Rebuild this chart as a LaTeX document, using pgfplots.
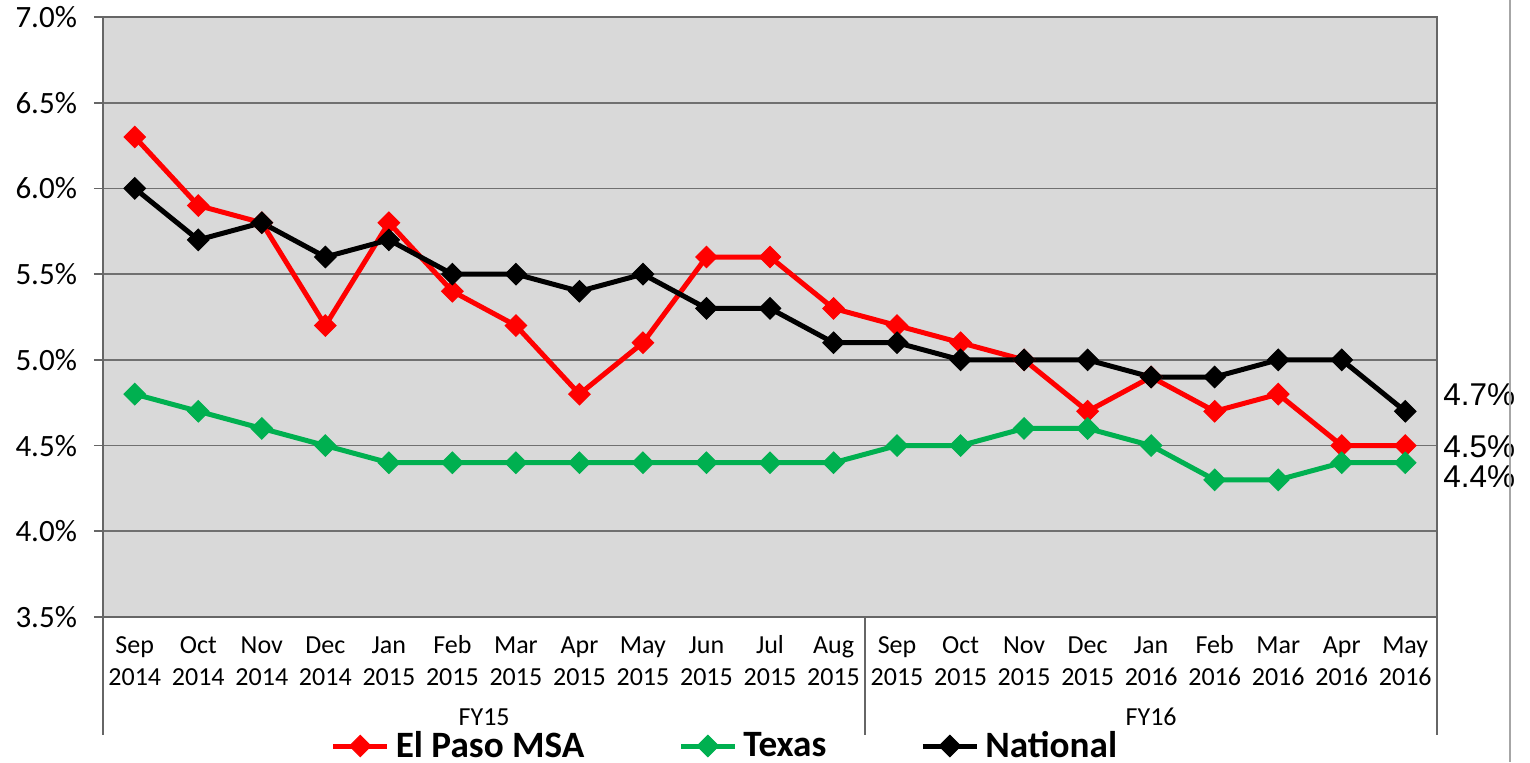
\documentclass[border=0pt]{standalone}
\usepackage{fontspec}
\setmainfont{Carlito}
\newfontfamily\arial{Liberation Sans}
\usepackage{pgfplots}
\usepackage{pgfplotstable}
\pgfplotsset{compat=1.18}

\definecolor{epred}{HTML}{FF0000}
\definecolor{txgreen}{HTML}{00B050}
\definecolor{plotbg}{HTML}{D9D9D9}
\definecolor{gridgray}{HTML}{707070}

\newcommand{\ml}[2]{\strut#1\\\strut#2}

% x: month index, Sep 2014 = 0
\pgfplotstableread{
x elpaso texas national
0  6.3 4.8 6.0
1  5.9 4.7 5.7
2  5.8 4.6 5.8
3  5.2 4.5 5.6
4  5.8 4.4 5.7
5  5.4 4.4 5.5
6  5.2 4.4 5.5
7  4.8 4.4 5.4
8  5.1 4.4 5.5
9  5.6 4.4 5.3
10 5.6 4.4 5.3
11 5.3 4.4 5.1
12 5.2 4.5 5.1
13 5.1 4.5 5.0
14 5.0 4.6 5.0
15 4.7 4.6 5.0
16 4.9 4.5 4.9
17 4.7 4.3 4.9
18 4.8 4.3 5.0
19 4.5 4.4 5.0
20 4.5 4.4 4.7
}\rates

\begin{document}
\begin{tikzpicture}
\path[use as bounding box] (0,0) rectangle (765pt,381pt);
\begin{axis}[
  at={(51.5pt,72.5pt)}, anchor=south west,
  scale only axis, width=667pt, height=300pt,
  xmin=-0.5, xmax=20.5, ymin=3.5, ymax=7.0,
  axis background/.style={fill=plotbg},
  axis line style={draw=gray!80!black, line width=0.9pt},
  ytick={3.5,4.0,4.5,5.0,5.5,6.0,6.5,7.0},
  ytick pos=left,
  yticklabel={\pgfmathprintnumber[fixed,fixed zerofill,precision=1]{\tick}\%},
  yticklabel style={font=\fontsize{15.5}{18}\selectfont, /pgf/number format/assume math mode=true, xshift=-5pt},
  ymajorgrids, grid style={draw=gridgray, line width=0.9pt},
  major tick length=4.5pt, tick align=outside,
  ytick style={draw=gray!80!black, line width=0.9pt},
  xtick={0,...,20},
  xticklabels={\ml{Sep}{2014},\ml{Oct}{2014},\ml{Nov}{2014},\ml{Dec}{2014},\ml{Jan}{2015},\ml{Feb}{2015},\ml{Mar}{2015},\ml{Apr}{2015},\ml{May}{2015},\ml{Jun}{2015},\ml{Jul}{2015},\ml{Aug}{2015},\ml{Sep}{2015},\ml{Oct}{2015},\ml{Nov}{2015},\ml{Dec}{2015},\ml{Jan}{2016},\ml{Feb}{2016},\ml{Mar}{2016},\ml{Apr}{2016},\ml{May}{2016}},
  xticklabel style={align=center, font=\fontsize{13}{16}\selectfont, yshift=1pt},
  xtick style={draw=none},
  clip=false,
  legend columns=3,
  legend style={at={(0.467,-0.215)}, anchor=center, draw=none, fill=none,
    font=\fontsize{18.6}{22}\selectfont\bfseries,
    /tikz/every even column/.append style={column sep=45pt},
    /tikz/every odd column/.append style={column sep=1pt}},
  legend image code/.code={\draw[mark repeat=2,mark phase=2,#1] plot coordinates {(0pt,0pt) (13.5pt,0pt) (27pt,0pt)};},
  every axis plot/.append style={line width=2.5pt, mark=square*, mark size=3.8pt, mark options={solid, rotate=45, line width=0.5pt}},
]
\addplot[color=epred] table[x=x, y=elpaso] {\rates};
\addlegendentry{El Paso MSA}
\addplot[color=txgreen] table[x=x, y=texas] {\rates};
\addlegendentry{Texas}
\addplot[color=black] table[x=x, y=national] {\rates};
\addlegendentry{National}

% category group lines and labels
\draw[gray!80!black, line width=0.9pt] (axis cs:-0.5,3.5) -- ([yshift=-59pt]axis cs:-0.5,3.5);
\draw[gray!80!black, line width=0.9pt] (axis cs:11.5,3.5) -- ([yshift=-59pt]axis cs:11.5,3.5);
\draw[gray!80!black, line width=0.9pt] (axis cs:20.5,3.5) -- ([yshift=-59pt]axis cs:20.5,3.5);
\node[font=\fontsize{13}{16}\selectfont] at ([yshift=-50pt]axis cs:5.5,3.5) {FY15};
\node[font=\fontsize{13}{16}\selectfont] at ([yshift=-50pt]axis cs:16,3.5) {FY16};

% end-of-series value labels
\node[anchor=west, font=\arial\fontsize{15.75}{18}\selectfont, inner sep=0pt] at ([xshift=3pt]axis cs:20.5,4.795) {4.7\%};
\node[anchor=west, font=\arial\fontsize{15.75}{18}\selectfont, inner sep=0pt] at ([xshift=3pt]axis cs:20.5,4.492) {4.5\%};
\node[anchor=west, font=\arial\fontsize{15.75}{18}\selectfont, inner sep=0pt] at ([xshift=3pt]axis cs:20.5,4.317) {4.4\%};
\end{axis}
\draw[gray!70, line width=1pt] (755pt,0) -- (755pt,381pt);
\end{tikzpicture}
\end{document}
